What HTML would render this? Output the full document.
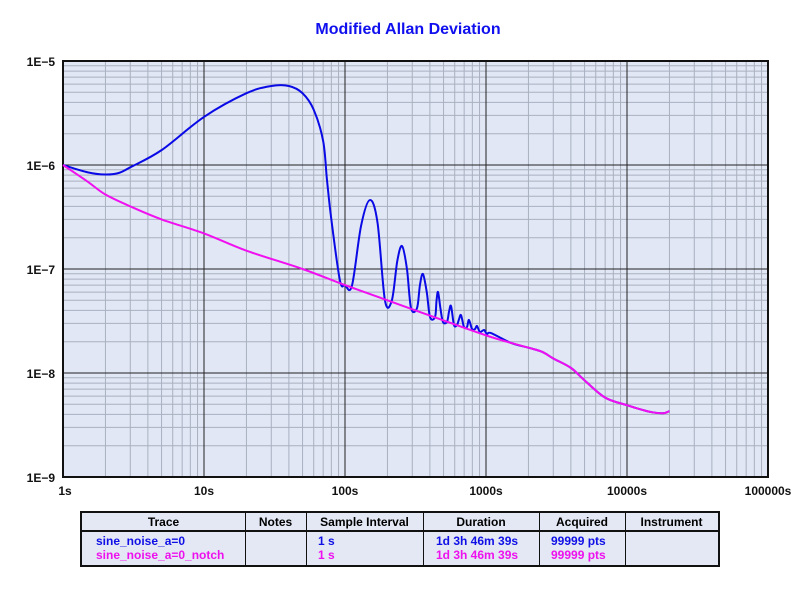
<!DOCTYPE html>
<html><head><meta charset="utf-8"><style>
body{margin:0;background:#fff;width:800px;height:600px;overflow:hidden;font-family:"Liberation Sans",sans-serif}
svg text{font-family:"Liberation Sans",sans-serif;font-weight:bold}
</style></head><body>
<svg id="c" width="800" height="600"></svg>
<script>
const magTau=[1,1.5,2,3,5,10,20,50,100,200,500,1000,1500,2000,2500,3000,4000,5000,7000,10000,13000,15000,18000,20000];
const magVal=[1e-6,6.9e-7,5.2e-7,4.0e-7,3.0e-7,2.2e-7,1.5e-7,1.0e-7,7e-8,5.0e-8,3.2e-8,2.3e-8,1.95e-8,1.75e-8,1.6e-8,1.38e-8,1.12e-8,8.5e-9,5.8e-9,4.9e-9,4.4e-9,4.2e-9,4.1e-9,4.3e-9];
const bluTau=[1,1.5,2,2.5,3,5,10,20,30,40,50,60,70,74.5,80,92,100,112,130,150,170,192,215,235,254,275,294,324,340,357,380,401,435,446,457,475,495,529,547,565,593,623,644,665,698,733,757,796,836,863,906,968,1016,1085,1500,2000,2500,3000,4000,5000,7000,10000,13000,15000,18000,20000];
const bluVal=[1e-6,8.5e-7,8.1e-7,8.4e-7,9.5e-7,1.39e-6,2.9e-6,4.9e-6,5.75e-6,5.75e-6,4.9e-6,3.4e-6,1.7e-6,7.2e-7,3.0e-7,7.8e-8,7.0e-8,6.9e-8,2.6e-7,4.6e-7,2.8e-7,5.0e-8,5.0e-8,1.2e-7,1.66e-7,1.0e-7,4.2e-8,4.2e-8,7.0e-8,8.95e-8,6.0e-8,3.45e-8,3.45e-8,5.0e-8,6.0e-8,4.2e-8,3.1e-8,3.1e-8,3.9e-8,4.4e-8,2.9e-8,2.9e-8,3.3e-8,3.6e-8,2.77e-8,2.77e-8,3.24e-8,2.65e-8,2.65e-8,2.83e-8,2.48e-8,2.59e-8,2.37e-8,2.42e-8,1.95e-8,1.75e-8,1.6e-8,1.38e-8,1.12e-8,8.5e-9,5.8e-9,4.9e-9,4.4e-9,4.2e-9,4.1e-9,4.3e-9];
const xTicks=["1s","10s","100s","1000s","10000s","100000s"];
const yTicks=["1E\u22125","1E\u22126","1E\u22127","1E\u22128","1E\u22129"];
const L=63,T=61,W=705,H=416;
const xs=t=>L+141*Math.log10(t);
const ys=v=>T+104*(-5-Math.log10(v));
const svg=document.getElementById('c');const NS='http://www.w3.org/2000/svg';
function mk(tag,a,p){const e=document.createElementNS(NS,tag);for(const k in a)e.setAttribute(k,a[k]);(p||svg).appendChild(e);return e;}
const title=mk('text',{x:408,y:34,'text-anchor':'middle','font-size':16,fill:'#1010ee'});title.textContent='Modified Allan Deviation';


const bg=mk('rect',{x:L,y:T,width:W,height:H,fill:'#e1e7f4'});


const g=mk('g',{});


for(let d=0;d<5;d++)for(let m=2;m<10;m++){const x=xs(Math.pow(10,d)*m);mk('line',{x1:x,x2:x,y1:T,y2:T+H,stroke:'#a9b0bf','stroke-width':1},g);}
for(let d=-9;d<-5;d++)for(let m=2;m<10;m++){const y=ys(Math.pow(10,d)*m);mk('line',{x1:L,x2:L+W,y1:y,y2:y,stroke:'#a9b0bf','stroke-width':1},g);}
xTicks.forEach((s,i)=>{const x=xs(Math.pow(10,i));mk('line',{x1:x,x2:x,y1:T,y2:T+H,stroke:'#222','stroke-width':1},g);
const t=mk('text',{x:i==0?x+2:x,y:495,'text-anchor':'middle','font-size':12,fill:'#111'});t.textContent=s;

});
yTicks.forEach((s,i)=>{const y=ys(Math.pow(10,-5-i));mk('line',{x1:L,x2:L+W,y1:y,y2:y,stroke:'#222','stroke-width':1},g);
const t=mk('text',{x:55,y:y+5,'text-anchor':'end','font-size':12,fill:'#111'});t.textContent=s;

});
mk('rect',{x:L,y:T,width:W,height:H,fill:'none',stroke:'#111','stroke-width':2});
function path(tx,vy){const p=tx.map((t,i)=>[xs(t),ys(vy[i])]);let d='M'+p[0][0]+','+p[0][1];
for(let i=0;i<p.length-1;i++){const p0=p[Math.max(0,i-1)],p1=p[i],p2=p[i+1],p3=p[Math.min(p.length-1,i+2)];
const c1=[p1[0]+(p2[0]-p0[0])/6,p1[1]+(p2[1]-p0[1])/6],c2=[p2[0]-(p3[0]-p1[0])/6,p2[1]-(p3[1]-p1[1])/6];
d+=` C${c1[0]},${c1[1]} ${c2[0]},${c2[1]} ${p2[0]},${p2[1]}`;}return d;}
const b=mk('path',{d:path(bluTau,bluVal),fill:'none',stroke:'#0a0ae6','stroke-width':2});


const m=mk('path',{d:path(magTau,magVal),fill:'none',stroke:'#f010f0','stroke-width':2});


</script>
<div style="position:absolute;left:80px;top:511px;width:636px;height:52px;border:2px solid #111;background:#e3e8f4;font-size:12px;font-weight:bold">
<div style="position:absolute;left:0;top:17px;width:636px;border-top:2px solid #111"></div>
<div style="position:absolute;left:163px;top:0;height:52px;border-left:1px solid #111"></div>
<div style="position:absolute;left:224px;top:0;height:52px;border-left:1px solid #111"></div>
<div style="position:absolute;left:341px;top:0;height:52px;border-left:1px solid #111"></div>
<div style="position:absolute;left:457px;top:0;height:52px;border-left:1px solid #111"></div>
<div style="position:absolute;left:543px;top:0;height:52px;border-left:1px solid #111"></div>
<div style="position:absolute;top:2px;left:0;width:163px;text-align:center">Trace</div>
<div style="position:absolute;top:2px;left:163px;width:61px;text-align:center">Notes</div>
<div style="position:absolute;top:2px;left:224px;width:117px;text-align:center">Sample Interval</div>
<div style="position:absolute;top:2px;left:341px;width:116px;text-align:center">Duration</div>
<div style="position:absolute;top:2px;left:457px;width:86px;text-align:center">Acquired</div>
<div style="position:absolute;top:2px;left:543px;width:93px;text-align:center">Instrument</div>
<div style="position:absolute;top:21px;left:14px;color:#1010e6;line-height:14px">sine_noise_a=0</div>
<div style="position:absolute;top:35px;left:14px;color:#ee10ee;line-height:14px">sine_noise_a=0_notch</div>
<div style="position:absolute;top:21px;left:236px;color:#1010e6;line-height:14px">1 s</div>
<div style="position:absolute;top:35px;left:236px;color:#ee10ee;line-height:14px">1 s</div>
<div style="position:absolute;top:21px;left:354px;color:#1010e6;line-height:14px">1d 3h 46m 39s</div>
<div style="position:absolute;top:35px;left:354px;color:#ee10ee;line-height:14px">1d 3h 46m 39s</div>
<div style="position:absolute;top:21px;left:469px;color:#1010e6;line-height:14px">99999 pts</div>
<div style="position:absolute;top:35px;left:469px;color:#ee10ee;line-height:14px">99999 pts</div>
</div>
</body></html>
